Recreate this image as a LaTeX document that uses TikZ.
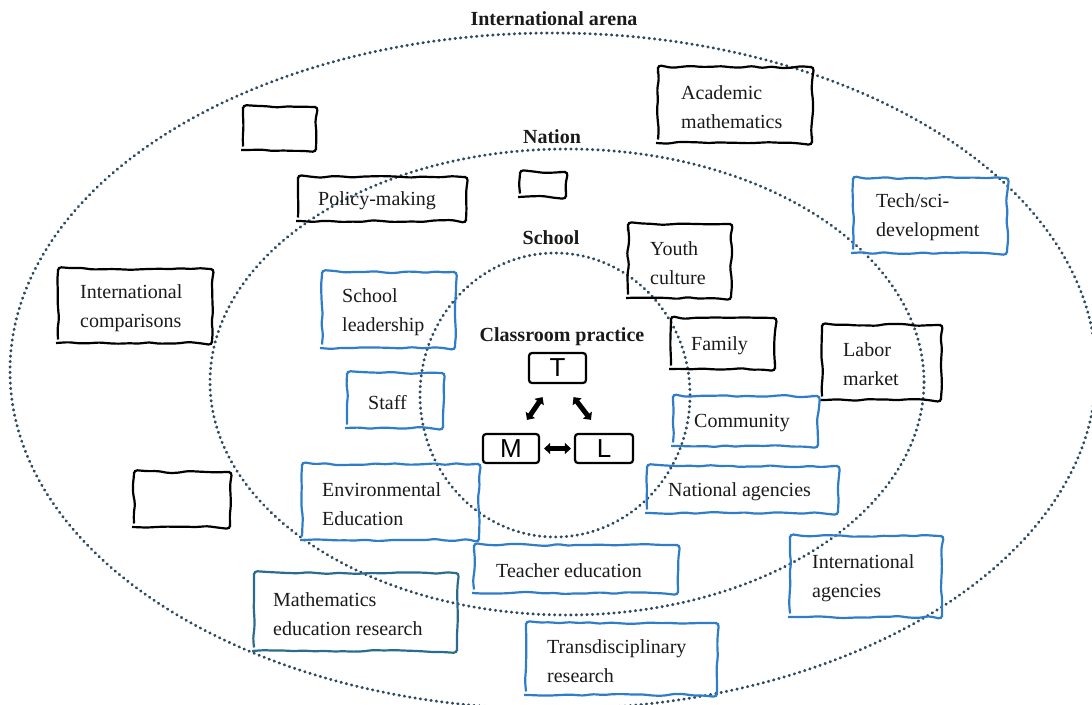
\documentclass[tikz,border=0pt]{standalone}
\usepackage{fontspec}
\setmainfont{Liberation Serif}
\newfontfamily\tlmfont{Liberation Sans}
\usetikzlibrary{arrows.meta,decorations.pathmorphing}
\definecolor{dotc}{HTML}{2E4A5E}
\definecolor{bblue}{HTML}{2F7DC8}
\definecolor{bteal}{HTML}{2B6C8E}
\definecolor{txt}{HTML}{1A1A1A}
\newcommand\rbox[8]{%
  \node[boxnode, minimum width={(#4-#2)*1pt}, minimum height={(#5-#3)*1pt}] (#1) at ({(#2+#4)/2},{(#3+#5)/2}) {};
  \draw[handbox, draw=#6] (#1.south west) rectangle (#1.north east);
  \node[lbl, anchor=west] (#1-t) at ({#2+#7},{(#3+#5)/2+2}) {#8};}
\begin{document}
\begin{tikzpicture}[x=1pt,y=-1pt,
  dotline/.style={draw=dotc, line width=3pt, line cap=round, dash pattern=on 0.4pt off 5pt},
  boxnode/.style={inner sep=0pt, outer sep=0pt},
  handbox/.style={line width=2.2pt, decorate, decoration={random steps, segment length=10pt, amplitude=1.1pt}, rounded corners=3.5pt},
  lbl/.style={inner sep=0pt, align=left, text=txt, font=\fontsize{20}{29}\selectfont},
  head/.style={inner sep=0pt, text=txt, font=\bfseries\fontsize{20}{24}\selectfont},
  tlm/.style={draw=black, line width=2.2pt, rounded corners=3pt, inner sep=0pt, font=\tlmfont\fontsize{26}{26}\selectfont},
  arr/.style={line width=5pt, {Triangle[length=6pt,width=11pt]}-{Triangle[length=6pt,width=11pt]}}]
\pgfmathsetseed{7}
\useasboundingbox (0,0) rectangle (1092,704);
% ellipses
\draw[dotline] (553,371) ellipse [x radius=543pt, y radius=338pt];
\draw[dotline] (567,382) ellipse [x radius=357pt, y radius=233pt];
\draw[dotline] (555,395) ellipse [x radius=135pt, y radius=142pt];
% headings
\node[head] (hint) at (554,19) {International arena};
\node[head] (hnat) at (552,137) {Nation};
\node[head] (hsch) at (551,238) {School};
\node[head] (hcls) at (562,337) {Classroom practice};
% boxes
\rbox{e1}{243}{107}{316}{150}{black}{0}{}
\rbox{acad}{658}{67}{812}{143}{black}{23}{Academic\\mathematics}
\rbox{e2}{520}{172}{566}{197}{black}{0}{}
\rbox{policy}{298}{177}{466}{221}{black}{20}{Policy-making}
\rbox{tech}{853}{178}{1007}{253}{bblue}{23}{Tech/sci-\\development}
\rbox{youth}{628}{224}{731}{298}{black}{22}{Youth\\culture}
\rbox{intcomp}{58}{269}{212}{343}{black}{22}{International\\comparisons}
\rbox{schlead}{322}{272}{455}{348}{bblue}{20}{School\\leadership}
\rbox{family}{671}{318}{775}{369}{black}{20}{Family}
\rbox{labor}{822}{325}{941}{400}{black}{21}{Labor\\market}
\rbox{staff}{347}{373}{443}{428}{bblue}{21}{Staff}
\rbox{community}{673}{396}{818}{446}{bblue}{21}{Community}
\rbox{e3}{134}{472}{230}{527}{black}{0}{}
\rbox{envedu}{302}{464}{479}{540}{bblue}{20}{Environmental\\Education}
\rbox{natag}{647}{466}{838}{513}{bblue}{21}{National agencies}
\rbox{teached}{474}{545}{678}{593}{bblue}{22}{Teacher education}
\rbox{intag}{790}{536}{942}{617}{bblue}{22}{International\\agencies}
\rbox{mathed}{254}{573}{457}{651}{bteal}{19}{Mathematics\\education research}
\rbox{trans}{526}{623}{717}{695}{bblue}{21}{Transdisciplinary\\research}
% classroom triangle
\node[tlm, minimum width=57pt, minimum height=30pt] (T) at (557.5,368) {T};
\node[tlm, minimum width=56pt, minimum height=29pt] (M) at (511,448.5) {M};
\node[tlm, minimum width=58pt, minimum height=29pt] (L) at (604,448.5) {L};
\draw[arr] ([xshift=-15pt,yshift=-13pt]T.south) -- ([xshift=16pt,yshift=13pt]M.north);
\draw[arr] ([xshift=16pt,yshift=-13pt]T.south) -- ([xshift=-13pt,yshift=13pt]L.north);
\draw[arr] ([xshift=4pt]M.east) -- ([xshift=-3pt]L.west);
\end{tikzpicture}
\end{document}
